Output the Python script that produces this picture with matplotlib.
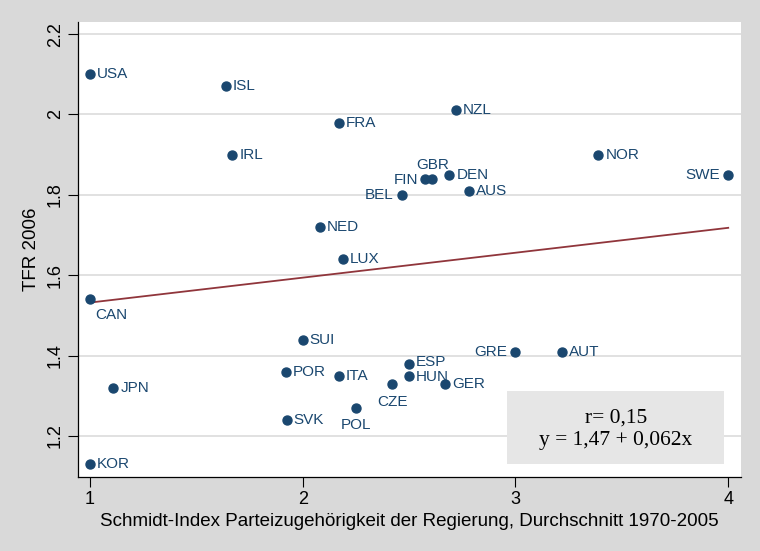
import matplotlib.pyplot as plt
import matplotlib.patches as mpatches
import numpy as np

# Schmidt-Index (x) vs TFR 2006 (y)
countries = ["USA", "ISL", "IRL", "FRA", "NZL", "NOR", "SWE", "GBR", "FIN", "DEN",
             "BEL", "AUS", "NED", "LUX", "CAN", "SUI", "POR", "ITA", "JPN", "SVK",
             "POL", "CZE", "ESP", "HUN", "GER", "GRE", "AUT", "KOR"]
schmidt = [1.0, 1.64, 1.67, 2.17, 2.72, 3.39, 4.0, 2.61, 2.575, 2.69,
           2.465, 2.78, 2.08, 2.19, 1.0, 2.0, 1.92, 2.17, 1.11, 1.925,
           2.25, 2.42, 2.5, 2.5, 2.67, 3.0, 3.22, 1.0]
tfr = [2.10, 2.07, 1.90, 1.98, 2.01, 1.90, 1.85, 1.84, 1.84, 1.85,
       1.80, 1.81, 1.72, 1.64, 1.54, 1.44, 1.36, 1.35, 1.32, 1.24,
       1.27, 1.33, 1.38, 1.35, 1.33, 1.41, 1.41, 1.13]

# label placement: offset in points and alignment
label_pos = {
    "SWE": (-6, 0, "right", "center"),
    "BEL": (-6, 0, "right", "center"),
    "FIN": (-5, -1, "right", "center"),
    "GRE": (-6, 0, "right", "center"),
    "GBR": (0, 10, "center", "center"),
    "CAN": (4, -11, "left", "center"),
    "POL": (0, -12, "center", "center"),
    "CZE": (0, -13, "center", "center"),
    "ESP": (5, 1, "left", "center"),
    "HUN": (5, -1, "left", "center"),
}

intercept = 1.47
slope = 0.062
r_value = "0,15"

navy = "#1a476f"
maroon = "#90353b"

plt.rcParams["font.family"] = ["Liberation Sans", "DejaVu Sans"]

fig = plt.figure(figsize=(7.6, 5.51), dpi=100, facecolor="#d9d9d9")
ax = fig.add_axes([0.1026, 0.1343, 0.8724, 0.8257])
ax.set_facecolor("white")

ax.set_xlim(0.944, 4.06)
ax.set_ylim(1.098, 2.23)

for yv in [1.2, 1.4, 1.6, 1.8, 2.0, 2.2]:
    ax.axhline(yv, color="#dcdcdc", linewidth=1.2, zorder=0)

ax.scatter(schmidt, tfr, s=42, color=navy, zorder=3)

for name, xv, yv in zip(countries, schmidt, tfr):
    dx, dy, ha, va = label_pos.get(name, (5, 0, "left", "center"))
    ax.annotate(name, (xv, yv), xytext=(dx, dy), textcoords="offset points",
                ha=ha, va=va, fontsize=11, color=navy)

xs = np.array([1.0, 4.0])
ax.plot(xs, intercept + slope * xs, color=maroon, linewidth=1.3, zorder=2)

# statistics box
ax.add_patch(mpatches.Rectangle((0.647, 0.029), 0.327, 0.160, transform=ax.transAxes,
                                facecolor="#e6e6e6", edgecolor="none", zorder=4))
ax.text(0.811, 0.105, f"r= {r_value}\ny = 1,47 + 0,062x",
        transform=ax.transAxes, ha="center", va="center",
        fontsize=15.5, family="Liberation Serif", linespacing=1.3, zorder=5)

ax.set_xticks([1, 2, 3, 4])
ax.set_yticks([1.2, 1.4, 1.6, 1.8, 2.0, 2.2])
ax.set_yticklabels(["1.2", "1.4", "1.6", "1.8", "2", "2.2"], rotation=90, va="center")
ax.tick_params(axis="both", labelsize=13, direction="out", length=7, width=0.8, pad=3)

for side in ["top", "right"]:
    ax.spines[side].set_visible(False)
for side in ["left", "bottom"]:
    ax.spines[side].set_linewidth(0.9)

ax.set_xlabel("Schmidt-Index Parteizugehörigkeit der Regierung, Durchschnitt 1970-2005",
              fontsize=13.5, labelpad=4)
ax.set_ylabel("TFR 2006", fontsize=13.5, labelpad=5)

fig.savefig("out.png", dpi=100, facecolor=fig.get_facecolor())
